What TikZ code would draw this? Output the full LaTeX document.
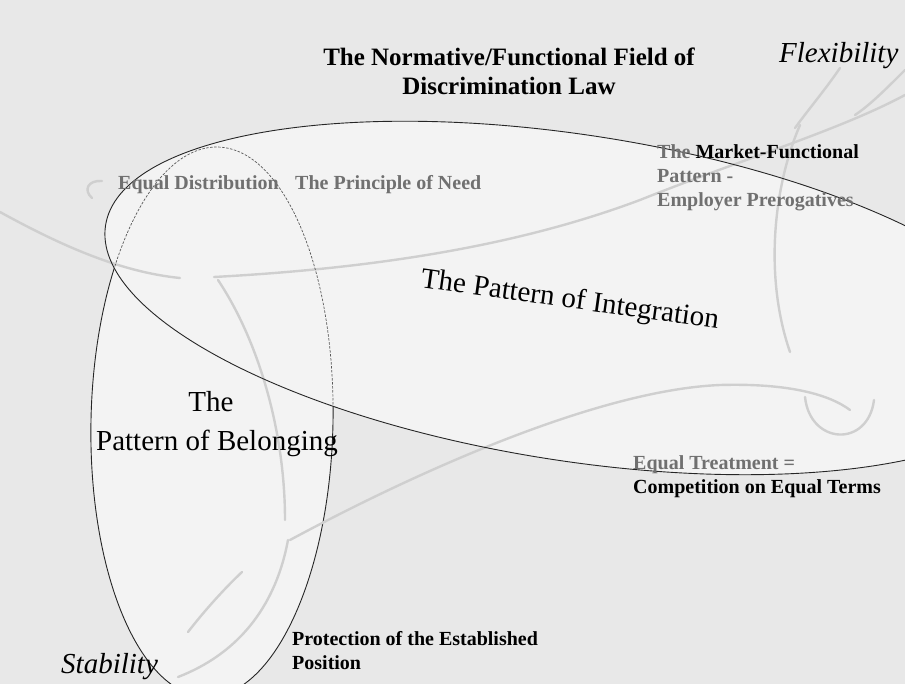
\documentclass[tikz,border=0pt]{standalone}
\usepackage{fontspec}
\setmainfont{Liberation Serif}
\usepackage{xcolor}
\definecolor{paper}{RGB}{232,232,232}
\definecolor{fieldfill}{RGB}{243,243,243}
\definecolor{labelgray}{RGB}{112,112,112}
\definecolor{swirlgray}{RGB}{207,207,207}

\begin{document}
\begin{tikzpicture}[x=1pt, y=-1pt,
    field/.style={draw=black!85, line width=0.9pt},
    fieldinner/.style={draw=black!65, line width=0.7pt, dash pattern=on 2.5pt off 1.5pt},
    swirl/.style={draw=swirlgray, line width=2.4pt, line cap=round},
    titlelbl/.style={font=\fontsize{25}{28}\selectfont\bfseries, anchor=base, inner sep=0pt},
    smalllbl/.style={font=\fontsize{20}{24}\selectfont\bfseries, anchor=base west, inner sep=0pt},
    greylbl/.style={smalllbl, text=labelgray},
    poleslbl/.style={font=\fontsize{29}{33}\selectfont\itshape, anchor=base west, inner sep=0pt},
    patternlbl/.style={font=\fontsize{29}{34}\selectfont, inner sep=0pt}]
  \fill[paper] (0,0) rectangle (905,684);
  \useasboundingbox (0,0) rectangle (905,684);
  \clip (0,0) rectangle (905,684);

  \coordinate (belongc) at (212,422);
  \coordinate (integc) at (575,298);

  % Pattern of Belonging (drawn first)
  \fill[fieldfill, rotate around={-1.2:(belongc)}]
     (belongc) ellipse [x radius=121pt, y radius=275pt];
  \draw[field, rotate around={-1.2:(belongc)}]
     (belongc) ellipse [x radius=121pt, y radius=275pt];
  % Pattern of Integration (on top)
  \fill[fieldfill, rotate around={-8.8:(integc)}]
     (integc) ellipse [x radius=475pt, y radius=163pt];

  % Background strokes
  \draw[swirl] (0,212) .. controls (60,245) and (120,272) .. (180,278);
  \draw[swirl] (214,277) .. controls (380,268) and (520,245) .. (640,200)
     .. controls (740,160) and (840,130) .. (905,95);
  \draw[swirl] (102,181) .. controls (88,180) and (83,190) .. (92,198);
  \draw[swirl] (840,68) .. controls (825,90) and (808,110) .. (795,128);
  \draw[swirl] (905,70) .. controls (885,90) and (870,105) .. (855,115);
  \draw[swirl] (800,125) .. controls (772,190) and (765,280) .. (790,352);
  \draw[swirl] (290,540) .. controls (420,470) and (600,390) .. (720,385)
     .. controls (790,383) and (830,395) .. (850,410);
  \draw[swirl] (805,397) .. controls (810,445) and (868,448) .. (874,400);
  \draw[swirl] (178,677) .. controls (235,655) and (275,610) .. (288,540);
  \draw[swirl] (218,280) .. controls (258,340) and (285,430) .. (285,520);
  \draw[swirl] (188,632) .. controls (205,610) and (225,588) .. (242,572);

  % Belonging outline seen through the Integration field
  \begin{scope}
    \clip[rotate around={-8.8:(integc)}]
       (integc) ellipse [x radius=475pt, y radius=163pt];
    \draw[fieldinner, rotate around={-1.2:(belongc)}]
       (belongc) ellipse [x radius=121pt, y radius=275pt];
  \end{scope}
  \draw[field, rotate around={-8.8:(integc)}]
     (integc) ellipse [x radius=475pt, y radius=163pt];

  % Title and poles
  \node[titlelbl] (title) at (509,66) {The Normative/Functional Field of};
  \node[titlelbl] (titlesub) at (509,95) {Discrimination Law};
  \node[poleslbl] (flex) at (779,63) {Flexibility};
  \node[poleslbl] (stab) at (61,673) {Stability};

  % Patterns
  \node[patternlbl, rotate=-8, anchor=base west] (integ) at (420,287) {The Pattern of Integration};
  \node[patternlbl, anchor=base] (belongtop) at (211,412) {The};
  \node[patternlbl, anchor=base] (belong) at (217,450) {Pattern of Belonging};

  % Principles
  \node[greylbl] (eqdist) at (118,190) {Equal Distribution};
  \node[greylbl] (need) at (295,190) {The Principle of Need};
  \node[smalllbl] (market) at (657,159) {{\color{labelgray}The} Market-Functional};
  \node[greylbl] (marketb) at (657,183) {Pattern -};
  \node[greylbl] (marketc) at (657,207) {Employer Prerogatives};
  \node[greylbl] (eqtreat) at (633,469) {Equal Treatment =};
  \node[smalllbl] (compet) at (633,493) {Competition on Equal Terms};
  \node[smalllbl] (protect) at (292,645) {Protection of the Established};
  \node[smalllbl] (protectb) at (292,669) {Position};
\end{tikzpicture}
\end{document}
